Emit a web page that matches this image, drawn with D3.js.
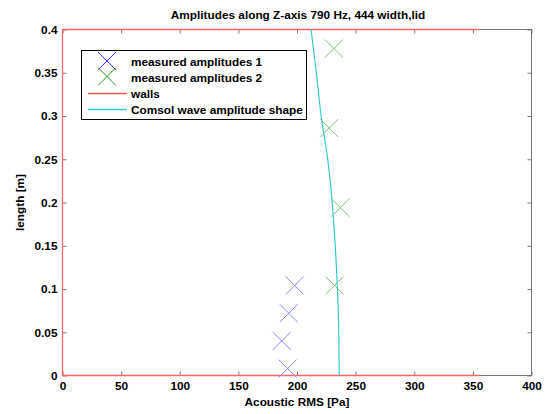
<!DOCTYPE html>
<html><head><meta charset="utf-8">
<script src="https://cdn.jsdelivr.net/npm/d3@7"></script>
<style>body{margin:0;background:#fff}svg{display:block}text{font-family:"Liberation Sans",Arial,sans-serif;font-weight:bold}</style>
</head><body><svg id="c" width="546" height="414"></svg>
<script>
const xTicks=[0,50,100,150,200,250,300,350,400];
const yTicks=[0,0.05,0.1,0.15,0.2,0.25,0.3,0.35,0.4];
const meas1X=[192,187,193,198];
const meas1Y=[0.008,0.040,0.072,0.104];
const meas2X=[232,237,227.5,231.5];
const meas2Y=[0.104,0.194,0.286,0.378];
const wallsX=[355,0,0,355];
const wallsY=[0,0,0.4,0.4];
const comsolY=[0,0.05,0.1,0.15,0.2,0.25,0.3,0.35,0.4];
const comsolX=[236,235.6,234.5,232.6,230,226.2,220.6,216.5,212];
const legendLabels=["measured amplitudes 1","measured amplitudes 2","walls","Comsol wave amplitude shape"];

const svg=d3.select("#c");
const L=62.5,R=531.5,T=29.5,B=375.5;
const x=d3.scaleLinear().domain([0,400]).range([L,R]);
const y=d3.scaleLinear().domain([0,0.4]).range([B,T]);
const fs=11.8;

// box
svg.append("rect").attr("x",L).attr("y",T).attr("width",R-L).attr("height",B-T).attr("fill","none").attr("stroke","#777").attr("stroke-width",1);

const ax=(g,a)=>g.call(a).call(g=>g.select(".domain").remove()).call(g=>g.selectAll("text").attr("font-size",fs).attr("fill","#000")).call(g=>g.selectAll("line").attr("stroke","#777"));
svg.append("g").attr("transform",`translate(0,${B})`).call(g=>ax(g,d3.axisBottom(x).tickValues(xTicks).tickSize(-4).tickPadding(6).tickFormat(d3.format("d"))));
svg.append("g").attr("transform",`translate(0,${T})`).call(g=>ax(g,d3.axisTop(x).tickValues(xTicks).tickSize(-4).tickFormat("")));
svg.append("g").attr("transform",`translate(${L},0)`).call(g=>ax(g,d3.axisLeft(y).tickValues(yTicks).tickSize(-4).tickPadding(5).tickFormat(d=>d===0?"0":String(+d.toFixed(2)))));
svg.append("g").attr("transform",`translate(${R},0)`).call(g=>ax(g,d3.axisRight(y).tickValues(yTicks).tickSize(-4).tickFormat("")));

// walls
svg.append("path").datum(d3.range(wallsX.length)).attr("fill","none").attr("stroke","#ff6666").attr("stroke-width",1.3)
 .attr("d",d3.line().x(i=>x(wallsX[i])).y(i=>y(wallsY[i])));
// comsol
svg.append("path").datum(d3.range(comsolX.length)).attr("fill","none").attr("stroke","#33cccc").attr("stroke-width",1.2)
 .attr("d",d3.line().curve(d3.curveMonotoneY).x(i=>x(comsolX[i])).y(i=>y(comsolY[i])));

const cross=(g,cx,cy,c,s)=>{g.append("path").attr("d",`M${cx-s},${cy-s}L${cx+s},${cy+s}M${cx-s},${cy+s}L${cx+s},${cy-s}`).attr("stroke",c).attr("stroke-width",1).attr("fill","none");};
const m=svg.append("g");
meas1X.forEach((v,i)=>cross(m,x(v),y(meas1Y[i]),"#8888ff",9));
meas2X.forEach((v,i)=>cross(m,x(v),y(meas2Y[i]),"#77c477",9));

// title & labels
svg.append("text").attr("x",298).attr("y",19).attr("text-anchor","middle").attr("font-size",fs).text("Amplitudes along Z-axis 790 Hz, 444 width,lid");
svg.append("text").attr("x",(L+R)/2).attr("y",406).attr("text-anchor","middle").attr("font-size",fs).text("Acoustic RMS [Pa]");
svg.append("text").attr("transform",`translate(24,${(T+B)/2}) rotate(-90)`).attr("text-anchor","middle").attr("font-size",fs).text("length [m]");

// legend
const lg=svg.append("g");
lg.append("rect").attr("x",81.5).attr("y",50.5).attr("width",225).attr("height",69).attr("fill","#fff").attr("stroke","#000");
const rows=[62,77.5,93.5,109.5];
cross(lg,107,rows[0]-1,"#3333ff",9);
cross(lg,107,rows[1]-1,"#229922",9);
lg.append("line").attr("x1",88).attr("x2",127).attr("y1",rows[2]).attr("y2",rows[2]).attr("stroke","#ff5555").attr("stroke-width",1.6);
lg.append("line").attr("x1",88).attr("x2",127).attr("y1",rows[3]).attr("y2",rows[3]).attr("stroke","#33cccc").attr("stroke-width",1.6);
legendLabels.forEach((t,i)=>lg.append("text").attr("x",131).attr("y",rows[i]+4).attr("font-size",fs).text(t));
</script></body></html>
